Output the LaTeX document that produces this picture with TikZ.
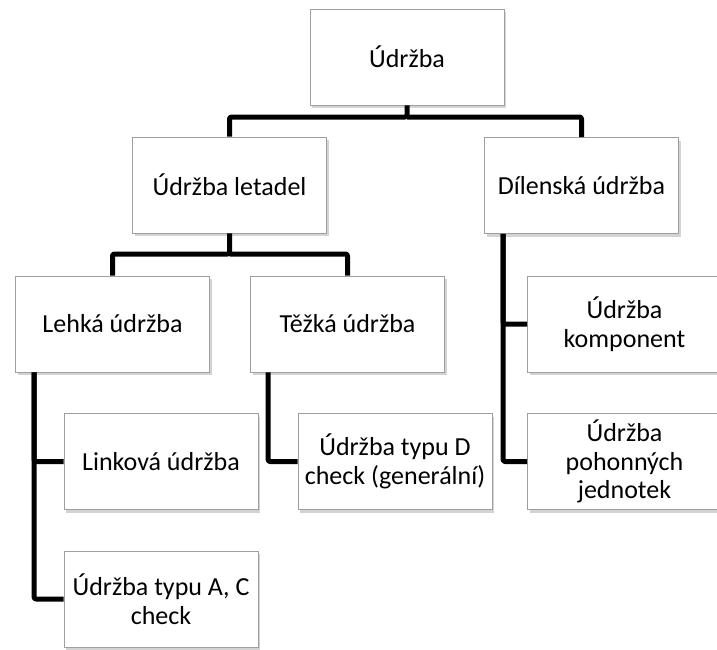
\documentclass[tikz,border=0pt]{standalone}
\usepackage{fontspec}
\setmainfont{Carlito}
\usetikzlibrary{shadows}

\begin{document}
\begin{tikzpicture}[x=1pt, y=-1pt]
    % Define display style
    \tikzstyle{box}=[draw=gray!75, fill=white, line width=0.8pt, minimum width=194pt, minimum height=96pt, align=center, inner sep=2pt, font=\fontsize{26}{28.5}\selectfont, drop shadow={shadow xshift=2pt, shadow yshift=-3pt, opacity=0.35, fill=gray}]
    \tikzstyle{link}=[line width=5pt, line join=round, rounded corners=2pt]

    % Fix the page size
    \useasboundingbox (0,0) rectangle (717,649);

    % Draw the boxes
    \node[box] (udrzba)    at (407,57)    {Údržba};
    \node[box] (letadel)   at (229.5,185) {Údržba letadel};
    \node[box] (dilenska)  at (581.5,185.5) {Dílenská údržba};
    \node[box] (lehka)     at (112.5,324) {Lehká údržba};
    \node[box] (tezka)     at (347.5,324) {Těžká údržba};
    \node[box] (linkova)   at (161,461.5) {Linková údržba};
    \node[box] (typAC)     at (161,599)   {Údržba typu A, C\\check};
    \node[box] (typD)      at (395,461.5) {Údržba typu D\\check (generální)};
    \node[box] (komponent) at (624.5,324) {Údržba\\komponent};
    \node[box] (pohon)     at (624.5,461.5) {Údržba\\pohonných\\jednotek};

    % Create shortcuts for the branch points
    \coordinate (topJ)   at (udrzba.south |- 0,117);
    \coordinate (letJ)   at (letadel.south |- 0,254);
    \coordinate (lehJ)   at ([xshift=19pt]lehka.south west);
    \coordinate (tezJ)   at ([xshift=18pt]tezka.south west);
    \coordinate (dilJ)   at ([xshift=19pt]dilenska.south west);

    % Draw the connectors
    \draw[link] (udrzba.south) -- (topJ) -| (letadel.north);
    \draw[link] (topJ) -| (dilenska.north);
    \draw[link] (letadel.south) -- (letJ) -| (lehka.north);
    \draw[link] (letJ) -| (tezka.north);
    \draw[link] (lehJ) |- (linkova.west);
    \draw[link] (lehJ) |- (typAC.west);
    \draw[link] (tezJ) |- (typD.west);
    \draw[link] (dilJ) |- (komponent.west);
    \draw[link] (dilJ) |- (pohon.west);
\end{tikzpicture}
\end{document}
